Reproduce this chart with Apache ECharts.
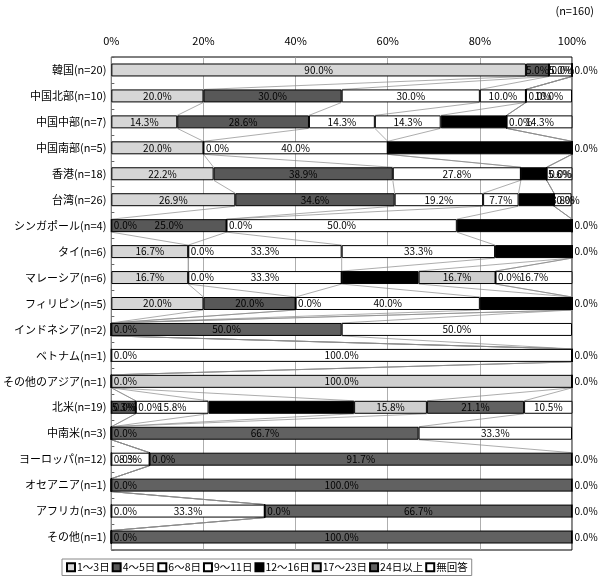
<!DOCTYPE html>
<html><head><meta charset="utf-8">
<script src="https://cdn.jsdelivr.net/npm/echarts@6/dist/echarts.min.js"></script>
<style>html,body{margin:0;padding:0;background:#fff}#c{width:600px;height:580px}</style>
</head><body><div id="c"></div>
<script>
const categories = ['韓国(n=20)','中国北部(n=10)','中国中部(n=7)','中国南部(n=5)','香港(n=18)','台湾(n=26)','シンガポール(n=4)','タイ(n=6)','マレーシア(n=6)','フィリピン(n=5)','インドネシア(n=2)','ベトナム(n=1)','その他のアジア(n=1)','北米(n=19)','中南米(n=3)','ヨーロッパ(n=12)','オセアニア(n=1)','アフリカ(n=3)','その他(n=1)'];
const seriesNames = ['1～3日','4～5日','6～8日','9～11日','12～16日','17～23日','24日以上','無回答'];
const d1_3   = [90.0,20.0,14.3,20.0,22.2,26.9,0,16.7,16.7,20.0,0,0,0,0,0,0,0,0,0];
const d4_5   = [5.0,30.0,28.6,0,38.9,34.6,25.0,0,0,20.0,0,0,0,5.3,0,0,0,0,0];
const d6_8   = [0,30.0,14.3,40.0,27.8,19.2,0,33.3,33.3,0,0,100.0,0,0,0,8.3,0,33.3,0];
const d9_11  = [5.0,10.0,14.3,0,0,7.7,50.0,33.3,0,40.0,0,0,0,15.8,0,0,0,0,0];
const d12_16 = [0,0,14.3,40.0,5.6,7.7,25.0,16.7,16.7,20.0,0,0,0,31.6,0,0,0,0,0];
const d17_23 = [0,0,0,0,0,0,0,0,16.7,0,0,0,100.0,15.8,0,0,0,0,0];
const d24    = [0,0,0,0,0,0,0,0,0,0,50.0,0,0,21.1,66.7,91.7,100.0,66.7,100.0];
const dNone  = [0,10.0,14.3,0,5.6,3.8,0,0,16.7,0,50.0,0,0,10.5,33.3,0,0,0,0];
const xTicks = [0,20,40,60,80,100];
const allData = [d1_3,d4_5,d6_8,d9_11,d12_16,d17_23,d24,dNone];
const colors = ['#d6d6d6','#585858','#ffffff','#ffffff','#000000','#cfcfcf','#616161','#ffffff'];
const FONT = '"Noto Sans CJK JP", sans-serif';

// one "0.0%" label per boundary (identical overlapping labels collapse into one)
function zeroVisible(s, i) {
  if (allData[s][i] !== 0) return true;
  if (s === 0) return true;
  return allData[s - 1][i] !== 0;
}

const chart = echarts.init(document.getElementById('c'));
const barSeries = seriesNames.map((name, s) => ({
  name, type: 'bar', stack: 'total', barWidth: '50%', z: 3,
  itemStyle: { color: colors[s], borderColor: '#000', borderWidth: 1 },
  label: { show: true, fontSize: 10, fontFamily: FONT, color: '#000',
    formatter: p => Number(p.value).toFixed(1) + '%' },
  data: allData[s].map((v, i) => ({ value: v,
    label: v === 0 ? { show: zeroVisible(s, i), position: 'right', distance: 2 } : { position: 'inside' } }))
}));

const seriesLines = {
  type: 'custom', coordinateSystem: 'cartesian2d', z: 1, silent: true,
  encode: { x: 0, y: 1 },
  data: categories.slice(0, -1).map((c, i) => [0, i]),
  renderItem: (params, api) => {
    const i = api.value(1);
    const band = api.size([0, 1])[1];
    const half = band * 0.25;
    const children = [];
    let c1 = 0, c2 = 0;
    for (let s = 0; s < allData.length; s++) {
      c1 += allData[s][i]; c2 += allData[s][i + 1];
      const p1 = api.coord([Math.min(c1, 100), i]);
      const p2 = api.coord([Math.min(c2, 100), i + 1]);
      children.push({ type: 'line', shape: { x1: p1[0], y1: p1[1] + half, x2: p2[0], y2: p2[1] - half },
        style: { stroke: '#8a8a8a', lineWidth: 0.7 } });
    }
    return { type: 'group', children };
  }
};

chart.setOption({
  animation: false,
  textStyle: { fontFamily: FONT },
  graphic: [{ type: 'text', right: 6, top: 5, style: { text: '(n=160)', fontSize: 11, fontFamily: FONT, fill: '#000' } }],
  grid: { left: 111, right: 28, top: 57, bottom: 30, show: true, borderColor: '#000', borderWidth: 1 },
  legend: {
    data: seriesNames, left: 62, top: 559, itemWidth: 8, itemHeight: 8, itemGap: 2, icon: 'rect',
    borderColor: '#888', borderWidth: 1, padding: [3, 4],
    textStyle: { fontSize: 10.5, fontFamily: FONT, color: '#000', padding: [0, 0, 0, -3] }
  },
  xAxis: {
    type: 'value', position: 'top', min: 0, max: 100, interval: 20,
    axisLine: { show: false }, axisTick: { show: false },
    axisLabel: { fontSize: 11, color: '#000', margin: 11, formatter: v => xTicks.includes(v) ? v + '%' : '' },
    splitLine: { show: true, lineStyle: { color: '#999', width: 0.8 } }
  },
  yAxis: {
    type: 'category', inverse: true, data: categories,
    axisLine: { show: false }, axisTick: { show: true, inside: true, length: 3, lineStyle: { color: '#666' } },
    axisLabel: { fontSize: 11, color: '#000', margin: 5, fontFamily: FONT }
  },
  series: [...barSeries, seriesLines]
});
</script></body></html>
